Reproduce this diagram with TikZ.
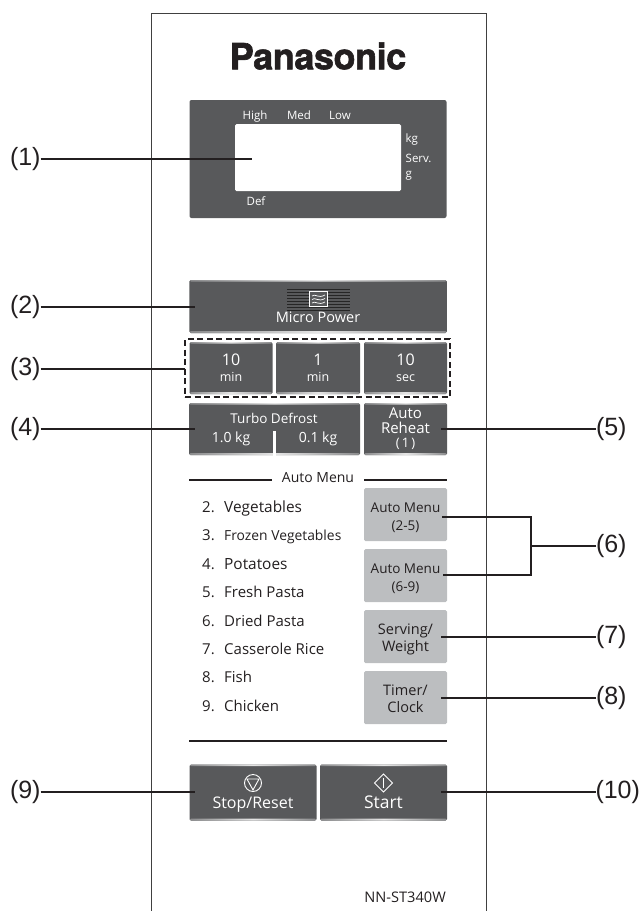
\documentclass[tikz,border=0pt]{standalone}
\usepackage{fontspec}
\setmainfont{Open Sans}
\newfontfamily\calloutfont{Liberation Sans}
\newfontfamily\logofont[UprightFeatures={FakeBold=1.6},LetterSpace=-1.2]{TeX Gyre Heros Bold}
\definecolor{keydark}{HTML}{58595B}
\definecolor{keylight}{HTML}{BCBEC0}
\definecolor{inkblack}{HTML}{231F20}
\tikzset{
  callout/.style={font=\calloutfont\fontsize{25}{25}\selectfont,text=inkblack,inner sep=0pt,outer sep=0pt},
  leader/.style={draw=inkblack,line width=1.9pt},
  keyface/.style={fill=keydark,rounded corners=1.5pt,inner sep=0pt,outer sep=0pt,text=white,align=center,
    path picture={
      \shade[left color=keydark!70!white,right color=keydark!70!white,middle color=white!90!black]
        (path picture bounding box.north west) rectangle ++(\pgfkeysvalueof{/pgf/minimum width},-1.5pt);
      \shade[left color=keydark!70!white,right color=keydark!70!white,middle color=white!90!black]
        (path picture bounding box.south west) rectangle ++(\pgfkeysvalueof{/pgf/minimum width},2pt);
    }},
  keylite/.style={fill=keylight,rounded corners=1.5pt,minimum width=83pt,minimum height=53pt,inner sep=0pt,outer sep=0pt},
  keytext/.style={text=white,inner sep=0pt,align=center},
  litetext/.style={text=inkblack,inner sep=0pt,anchor=base},
  panellabel/.style={text=white,inner sep=0pt,anchor=base,font=\fontsize{11.5}{12}\selectfont},
  menuitem/.style={text=inkblack,inner sep=0pt,anchor=base west,font=\fontsize{15}{15}\selectfont},
  rule/.style={draw=inkblack,line width=1.5pt}
}
\begin{document}
\begin{tikzpicture}[x=1pt,y=-1pt]
  \useasboundingbox (0,0) rectangle (640,911);
  \draw[line width=1pt,draw=black!75] (151,911)--(151,13)--(486,13)--(486,911);
  \node[font=\logofont\fontsize{36}{36}\selectfont,text=inkblack,inner sep=0pt] (logo) at (318,56) {Panasonic};

  \node[fill=keydark,rounded corners=2pt,minimum width=257pt,minimum height=118pt,inner sep=0pt] (display) at (318,159) {};
  \node[fill=white,rounded corners=1.5pt,minimum width=166pt,minimum height=67pt,inner sep=0pt] (window) at (318,157.5) {};
  \node[panellabel] (high) at (255,119) {High};
  \node[panellabel] (med) at (299,119) {Med};
  \node[panellabel] (low) at (340,119) {Low};
  \node[panellabel,anchor=base west] (kg) at (405.5,142) {kg};
  \node[panellabel,anchor=base west] (serv) at (405.5,162) {Serv.};
  \node[panellabel,anchor=base west] (gram) at (405.5,177) {g};
  \node[panellabel] (def) at (256,205) {Def};

  \node[keyface,minimum width=257.5pt,minimum height=53pt] (micro) at (318.2,306.5) {};
  \foreach \y in {289,292,295,298,301,304,307,310} \draw[black!85,line width=1pt] (287,\y)--(350,\y);
  \node[draw=white,line width=0.8pt,fill=keydark,minimum width=18pt,minimum height=15pt,inner sep=0pt] (waveicon) at (318.5,299) {};
  \draw[white,line width=0.7pt] (312,296) .. controls (315,293) and (318,299) .. (325,295);
  \draw[white,line width=0.7pt] (312,299.5) .. controls (315,296.5) and (318,302.5) .. (325,298.5);
  \draw[white,line width=0.7pt] (312,303) .. controls (315,300) and (318,306) .. (325,302);
  \node[keytext,font=\fontsize{14.5}{15}\selectfont] (microtext) at (318,317) {Micro Power};

  \node[keyface,minimum width=83pt,minimum height=52pt,font=\fontsize{16}{16}\selectfont] (tenmin) at (231,368) {10\\{\fontsize{12.5}{12}\selectfont min}};
  \node[keyface,minimum width=84pt,minimum height=52pt,font=\fontsize{16}{16}\selectfont] (onemin) at (318,368) {1\\{\fontsize{12.5}{12}\selectfont min}};
  \node[keyface,minimum width=83pt,minimum height=52pt,font=\fontsize{16}{16}\selectfont] (tensec) at (405.5,368) {10\\{\fontsize{12.5}{12}\selectfont sec}};
  \node[draw=inkblack,line width=2pt,dash pattern=on 6pt off 3.5pt,minimum width=265pt,minimum height=58pt,inner sep=0pt,outer sep=0pt] (timegroup) at (317.5,368) {};

  \node[keyface,minimum width=171pt,minimum height=52pt] (turbo) at (274.5,429) {};
  \fill[white] (272.7,431) rectangle (276.3,456);
  \node[keytext,font=\fontsize{13.5}{14}\selectfont] (turbotext) at (274,418) {Turbo Defrost};
  \node[keytext,font=\fontsize{14}{14}\selectfont] (onekg) at (231,439) {1.0 kg};
  \node[keytext,font=\fontsize{14}{14}\selectfont] (tenthkg) at (318,439) {0.1 kg};
  \node[keyface,minimum width=83pt,minimum height=52pt,font=\fontsize{15}{14.5}\selectfont] (reheat) at (405.5,429) {Auto\\Reheat\\{\fontsize{13}{13}\selectfont (\,1\,)}};

  \coordinate (menuleftA) at (189,480);
  \coordinate (menurightA) at (272,480);
  \coordinate (menuleftB) at (364,480);
  \coordinate (menurightB) at (447,480);
  \draw[rule] (menuleftA)--(menurightA);
  \draw[rule] (menuleftB)--(menurightB);
  \node[text=inkblack,inner sep=0pt,font=\fontsize{14}{14}\selectfont] (menutitle) at (318,478) {Auto Menu};

  \node[menuitem] (itemA) at (202,512) {2.};
  \node[menuitem] (itemB) at (202,540.5) {3.};
  \node[menuitem] (itemC) at (202,569) {4.};
  \node[menuitem] (itemD) at (202,597) {5.};
  \node[menuitem] (itemE) at (202,626) {6.};
  \node[menuitem] (itemF) at (202,654) {7.};
  \node[menuitem] (itemG) at (202,682.5) {8.};
  \node[menuitem] (itemH) at (202,711) {9.};
  \node[menuitem,font=\fontsize{15.4}{15}\selectfont] (nameA) at (224,512) {Vegetables};
  \node[menuitem,font=\fontsize{13.85}{15}\selectfont] (nameB) at (224,540.5) {Frozen Vegetables};
  \node[menuitem,font=\fontsize{15.4}{15}\selectfont] (nameC) at (224,569) {Potatoes};
  \node[menuitem] (nameD) at (224,597) {Fresh Pasta};
  \node[menuitem] (nameE) at (224,626) {Dried Pasta};
  \node[menuitem] (nameF) at (224,654) {Casserole Rice};
  \node[menuitem] (nameG) at (224,682.5) {Fish};
  \node[menuitem] (nameH) at (224,711) {Chicken};

  \node[keylite] (menuA) at (405.5,514.5) {};
  \node[keylite] (menuB) at (405.5,575.5) {};
  \node[keylite] (serving) at (405.5,636.5) {};
  \node[keylite] (timer) at (405.5,697.5) {};
  \node[litetext,font=\fontsize{13.5}{14}\selectfont] (menuAtop) at (405.5,512) {Auto Menu};
  \node[litetext,font=\fontsize{13.5}{14}\selectfont] (menuAsub) at (405.5,530) {(2-5)};
  \node[litetext,font=\fontsize{13.5}{14}\selectfont] (menuBtop) at (405.5,573) {Auto Menu};
  \node[litetext,font=\fontsize{13.5}{14}\selectfont] (menuBsub) at (405.5,591) {(6-9)};
  \node[litetext,font=\fontsize{14.5}{15}\selectfont] (servingtop) at (405.5,634) {Serving/};
  \node[litetext,font=\fontsize{14.5}{15}\selectfont] (servingsub) at (405.5,651) {Weight};
  \node[litetext,font=\fontsize{14.5}{15}\selectfont] (timertop) at (405.5,695) {Timer/};
  \node[litetext,font=\fontsize{14.5}{15}\selectfont] (timersub) at (405.5,712) {Clock};

  \coordinate (ruleleft) at (189,741);
  \coordinate (ruleright) at (447,741);
  \draw[rule] (ruleleft)--(ruleright);

  \node[keyface,minimum width=127pt,minimum height=56pt] (stop) at (253,792.5) {};
  \node[keyface,minimum width=127pt,minimum height=56pt] (start) at (383.5,792.5) {};
  \node[circle,draw=white,line width=0.9pt,minimum size=17pt,inner sep=0pt] (stopicon) at (253,783) {};
  \draw[white,line width=0.9pt] (247,779)--(259,779)--(253,790)--cycle;
  \draw[white,line width=0.9pt] (383.5,774)--(392.5,783)--(383.5,792)--(374.5,783)--cycle;
  \draw[white,line width=0.9pt] (383.5,778)--(383.5,788);
  \node[keytext,anchor=base,font=\fontsize{16}{16}\selectfont] (stoptext) at (253,808) {Stop/Reset};
  \node[keytext,anchor=base,font=\fontsize{17.5}{17}\selectfont] (starttext) at (383.5,808) {Start};

  \node[text=inkblack,inner sep=0pt,anchor=east,font=\fontsize{14.6}{15}\selectfont] (model) at (446,897) {NN-ST340W};

  \node[callout,anchor=west] (lblA) at (10,159) {(1)};
  \node[callout,anchor=west] (lblB) at (10,307) {(2)};
  \node[callout,anchor=west] (lblC) at (10,369) {(3)};
  \node[callout,anchor=west] (lblD) at (10,429) {(4)};
  \node[callout,anchor=west] (lblE) at (596,429) {(5)};
  \node[callout,anchor=west] (lblF) at (596,546) {(6)};
  \node[callout,anchor=west] (lblG) at (596,637) {(7)};
  \node[callout,anchor=west] (lblH) at (596,698) {(8)};
  \node[callout,anchor=west] (lblI) at (10,792) {(9)};
  \node[callout,anchor=west] (lblJ) at (595.5,792) {(10)};

  \coordinate (endA) at (252,159);
  \coordinate (endB) at (195,307);
  \coordinate (endD) at (195,429);
  \coordinate (endE) at (441,429);
  \coordinate (endFa) at (442,517);
  \coordinate (endFb) at (443,575);
  \coordinate (kneeFa) at (531,517);
  \coordinate (kneeFb) at (531,575);
  \coordinate (kneeF) at (531,546);
  \coordinate (endG) at (441,637);
  \coordinate (endH) at (441,698);
  \coordinate (endI) at (195,792);
  \coordinate (endJ) at (441,792);
  \draw[leader] (lblA.east)--(endA);
  \draw[leader] (lblB.east)--(endB);
  \draw[leader] (lblC.east)--(lblC.east-|timegroup.west);
  \draw[leader] (lblD.east)--(endD);
  \draw[leader] (lblE.west)--(endE);
  \draw[leader] (endFa)--(kneeFa)--(kneeFb)--(endFb);
  \draw[leader] (lblF.west)--(kneeF);
  \draw[leader] (lblG.west)--(endG);
  \draw[leader] (lblH.west)--(endH);
  \draw[leader] (lblI.east)--(endI);
  \draw[leader] (lblJ.west)--(endJ);
\end{tikzpicture}
\end{document}
